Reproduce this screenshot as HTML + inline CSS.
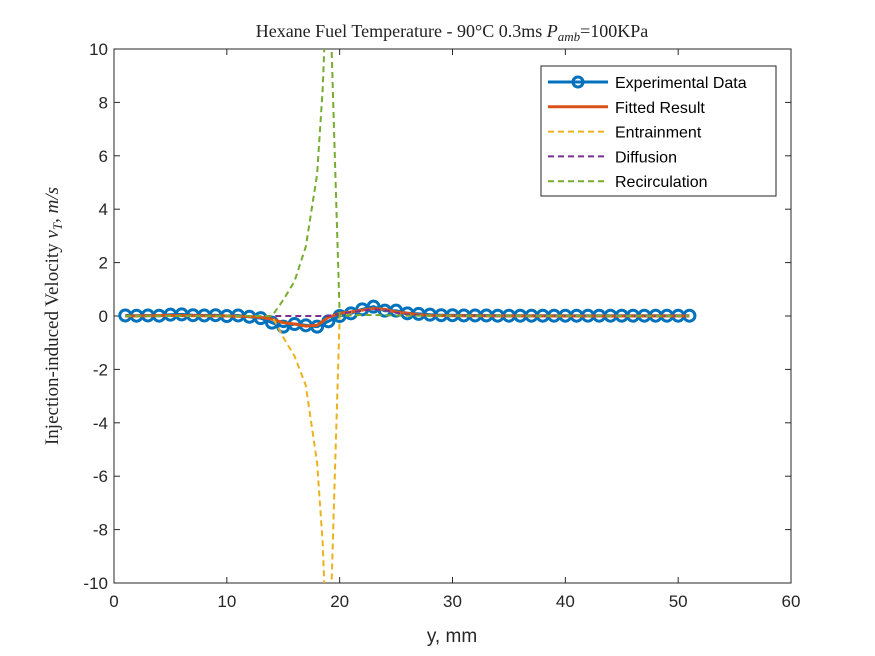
<!DOCTYPE html>
<html><head><meta charset="utf-8"><style>
html,body{margin:0;padding:0;background:#fff;overflow:hidden;width:875px;height:656px;}
svg{display:block;font-family:"Liberation Sans",sans-serif;}
.serif{font-family:"Liberation Serif",serif;}
</style></head><body>
<svg id="chart" width="875" height="656" viewBox="0 0 875 656">
<rect x="0" y="0" width="875" height="656" fill="#fff"/>
<defs><clipPath id="clip"><rect x="114" y="49" width="677" height="534"/></clipPath></defs>
<g id="axes"></g>
<g id="series" clip-path="url(#clip)"></g>
<text class="serif" x="452" y="37" font-size="18" text-anchor="middle" fill="#222">Hexane Fuel Temperature - 90°C 0.3ms <tspan font-style="italic">P</tspan><tspan font-style="italic" font-size="13" dy="4">amb</tspan><tspan dy="-4">=100KPa</tspan></text>
<text x="452" y="642" font-size="19" text-anchor="middle" fill="#262626">y, mm</text>
<text class="serif" transform="translate(58,316) rotate(-90)" font-size="19" text-anchor="middle" fill="#262626">Injection-induced Velocity <tspan font-style="italic">v</tspan><tspan font-style="italic" font-size="13" dy="4">T</tspan><tspan dy="-4">, </tspan><tspan font-style="italic">m/s</tspan></text>
<g id="legend">
<rect x="541" y="66" width="235" height="130" fill="#fff" stroke="#262626" stroke-width="1"/>
</g>
</svg>
<script>
const xTicks=[0,10,20,30,40,50,60];
const yTicks=[-10,-8,-6,-4,-2,0,2,4,6,8,10];
const expX=[1,2,3,4,5,6,7,8,9,10,11,12,13,14,15,16,17,18,19,20,21,22,23,24,25,26,27,28,29,30,31,32,33,34,35,36,37,38,39,40,41,42,43,44,45,46,47,48,49,50,51];
const expY=[0.02,0.01,0.02,0.01,0.05,0.06,0.03,0.02,0.03,0,0.02,-0.03,-0.08,-0.25,-0.4,-0.3,-0.35,-0.4,-0.2,0,0.1,0.25,0.35,0.2,0.2,0.1,0.08,0.05,0.03,0.03,0.02,0.02,0.02,0.01,0.01,0.01,0.01,0.01,0.01,0.01,0.01,0.01,0.01,0.01,0.01,0.01,0.01,0.01,0.01,0.01,0.01];
const fitX=[1,5,10,12,13,14,15,16,17,18,19,20,21,22,23,24,25,26,27,28,30,40,51];
const fitY=[0,0.02,0,-0.02,-0.05,-0.12,-0.25,-0.3,-0.38,-0.35,-0.05,0.1,0.15,0.22,0.28,0.25,0.15,0.1,0.05,0.02,0.01,0,0];
const entX=[1,14,15,16,17,18,18.5,19,19.5,20,21,22,23,24,25,26,28,51];
const entY=[0,0,-0.8,-1.5,-2.6,-5.5,-8.5,-14,-7,0,0.12,0.2,0.25,0.22,0.12,0.06,0.01,0];
const difX=[1,14,19,20,21,22,23,24,25,26,28,51];
const difY=[0,0,0,0.08,0.14,0.2,0.25,0.22,0.12,0.06,0.01,0];
const recX=[1,14,15,16,17,18,18.5,19,19.5,20,21,22,24,26,51];
const recY=[0,0,0.6,1.3,2.6,5.3,8.5,14,7,0,0.02,0.04,0.03,0.01,0];
const X0=114,X1=791,Y0=583,Y1=49;
const sx=v=>X0+(v-0)/60*(X1-X0);
const sy=v=>Y0-(v+10)/20*(Y0-Y1);
const NS="http://www.w3.org/2000/svg";
function mk(t,a,p){const e=document.createElementNS(NS,t);for(const k in a)e.setAttribute(k,a[k]);p.appendChild(e);return e;}
const axes=document.getElementById('axes');
const ser=document.getElementById('series');
const frame=mk('rect',{x:X0,y:Y1,width:X1-X0,height:Y0-Y1,fill:'none',stroke:'#262626','stroke-width':1},axes);


xTicks.forEach(t=>{
  const x=sx(t);
  mk('line',{x1:x,x2:x,y1:Y0,y2:Y0-6,stroke:'#262626'},axes);
  mk('line',{x1:x,x2:x,y1:Y1,y2:Y1+6,stroke:'#262626'},axes);
  const tx=mk('text',{x:x,y:Y0+24,'font-size':17,'text-anchor':'middle',fill:'#262626'},axes);
  tx.textContent=t;
  
  
});
yTicks.forEach(t=>{
  const y=sy(t);
  mk('line',{x1:X0,x2:X0+6,y1:y,y2:y,stroke:'#262626'},axes);
  mk('line',{x1:X1,x2:X1-6,y1:y,y2:y,stroke:'#262626'},axes);
  const tx=mk('text',{x:X0-6,y:y+6,'font-size':17,'text-anchor':'end',fill:'#262626'},axes);
  tx.textContent=t;
  
  
});
function pts(xs,ys){return xs.map((x,i)=>sx(x).toFixed(1)+','+sy(ys[i]).toFixed(1)).join(' ');}
const le=mk('polyline',{points:pts(expX,expY),fill:'none',stroke:'#0072BD','stroke-width':3},ser);


expX.forEach((x,i)=>{
  const c=mk('circle',{cx:sx(x),cy:sy(expY[i]),r:5.5,fill:'none',stroke:'#0072BD','stroke-width':3},ser);
  
  
});
const lf=mk('polyline',{points:pts(fitX,fitY),fill:'none',stroke:'#D95319','stroke-width':3},ser);


const lent=mk('polyline',{points:pts(entX,entY),fill:'none',stroke:'#EDB120','stroke-width':2,'stroke-dasharray':'6,4'},ser);


const ld=mk('polyline',{points:pts(difX,difY),fill:'none',stroke:'#7E2F8E','stroke-width':2,'stroke-dasharray':'6,4'},ser);


const lr=mk('polyline',{points:pts(recX,recY),fill:'none',stroke:'#77AC30','stroke-width':2,'stroke-dasharray':'6,4'},ser);


const leg=document.getElementById('legend');
const items=[['Experimental Data','#0072BD',3,null,true],['Fitted Result','#D95319',3,null,false],['Entrainment','#EDB120',2,'6,4',false],['Diffusion','#7E2F8E',2,'6,4',false],['Recirculation','#77AC30',2,'6,4',false]];
items.forEach((it,i)=>{
  const y=82+i*24.8;
  const g=mk('g',{},leg);
  
  
  const a={x1:548,x2:608,y1:y,y2:y,stroke:it[1],'stroke-width':it[2]};
  if(it[3])a['stroke-dasharray']=it[3];
  mk('line',a,g);
  if(it[4])mk('circle',{cx:578,cy:y,r:5,fill:'none',stroke:it[1],'stroke-width':3},g);
  const t=mk('text',{x:615,y:y+6,'font-size':16,fill:'#000'},g);
  t.textContent=it[0];
});
</script>
</body></html>
